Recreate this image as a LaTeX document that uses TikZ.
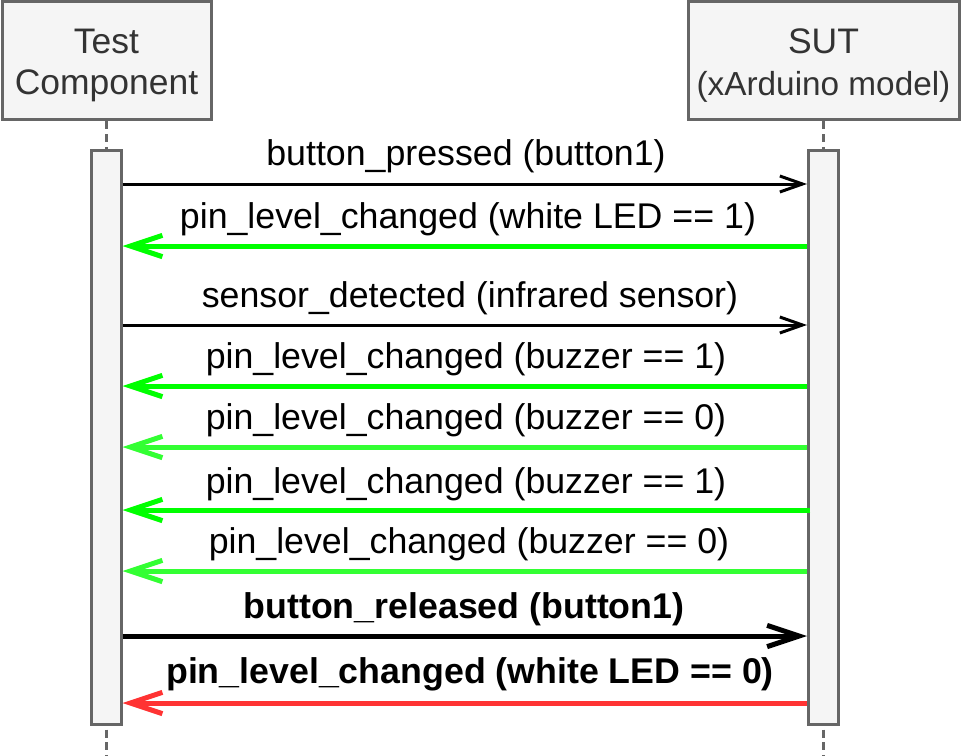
\documentclass[tikz,border=0pt]{standalone}
\usepackage{fontspec}
\setmainfont{Liberation Sans}
\usetikzlibrary{arrows.meta}
\definecolor{boxfill}{HTML}{F5F5F5}
\definecolor{boxline}{HTML}{666666}
\definecolor{boxtext}{HTML}{333333}
\definecolor{grn}{HTML}{00FF00}
\definecolor{lgrn}{HTML}{33FF33}
\definecolor{redarr}{HTML}{FF3333}
\tikzset{
  actor/.style={draw=boxline, fill=boxfill, line width=2.25pt, text=boxtext, align=center,
    font=\fontsize{26.6}{31}\selectfont, inner sep=0pt},
  actbar/.style={draw=boxline, fill=boxfill, line width=2.25pt, minimum width=22.5pt, minimum height=429.75pt, inner sep=0pt},
  lifeline/.style={draw=boxline, line width=2.25pt, dash pattern=on 6pt off 3.5pt},
  msg/.style={font=\fontsize{26.8}{30}\selectfont, anchor=base, inner sep=0pt},
  bmsg/.style={msg, font=\fontsize{26.8}{30}\selectfont\bfseries},
  call/.style={line width=2.25pt, -{Straight Barb[length=17pt, width=12pt]}},
  bcall/.style={line width=3.75pt, -{Straight Barb[length=24pt, width=16pt]}},
  reply/.style={line width=3.75pt, -{Straight Barb[length=24pt, width=16pt]}}
}
\begin{document}
\begin{tikzpicture}[x=0.75pt, y=-0.75pt]
\useasboundingbox (0,0) rectangle (963,756);
% actor boxes
\node[actor, minimum width=156.75pt, minimum height=88.5pt] (tc) at (106.5,61) {\rule{0pt}{25.5pt}Test\\Component};
\node[actor, minimum width=203.25pt, minimum height=88.5pt] (sut) at (823.5,61) {\rule{0pt}{25.5pt}SUT\\{\fontsize{25}{31}\selectfont (xArduino model)}};
% lifelines
\coordinate (tcend) at (106,756);
\coordinate (sutend) at (823.5,756);
\draw[lifeline] (tc.south -| tcend) -- (tcend);
\draw[lifeline] (sut.south -| sutend) -- (sutend);
% activation bars
\node[actbar] (tbar) at (106,437.5) {};
\node[actbar] (sbar) at (823.5,437.5) {};
% messages
\draw[call] (tbar.east |- 0,184) -- (sbar.west |- 0,184);
\node[msg] (m1) at (466,166) {button\_pressed (button1)};
\draw[reply, draw=grn] (sbar.west |- 0,246) -- (tbar.east |- 0,246);
\node[msg] (m2) at (468,228) {pin\_level\_changed (white LED == 1)};
\draw[call] (tbar.east |- 0,325) -- (sbar.west |- 0,325);
\node[msg] (m3) at (470,307) {sensor\_detected (infrared sensor)};
\draw[reply, draw=grn] (sbar.west |- 0,386) -- (tbar.east |- 0,386);
\node[msg] (m4) at (466,368) {pin\_level\_changed (buzzer == 1)};
\draw[reply, draw=lgrn] (sbar.west |- 0,447) -- (tbar.east |- 0,447);
\node[msg] (m5) at (466,429) {pin\_level\_changed (buzzer == 0)};
\draw[reply, draw=grn] ([xshift=2.5pt]sbar.west |- 0,510) -- (tbar.east |- 0,510);
\node[msg] (m6) at (466,493) {pin\_level\_changed (buzzer == 1)};
\draw[reply, draw=lgrn] (sbar.west |- 0,571) -- (tbar.east |- 0,571);
\node[msg] (m7) at (469,553) {pin\_level\_changed (buzzer == 0)};
\draw[bcall] (tbar.east |- 0,636) -- (sbar.west |- 0,636);
\node[bmsg] (m8) at (464,618) {button\_released (button1)};
\draw[reply, draw=redarr] (sbar.west |- 0,703) -- (tbar.east |- 0,703);
\node[bmsg] (m9) at (470,683) {pin\_level\_changed (white LED == 0)};
\end{tikzpicture}
\end{document}
